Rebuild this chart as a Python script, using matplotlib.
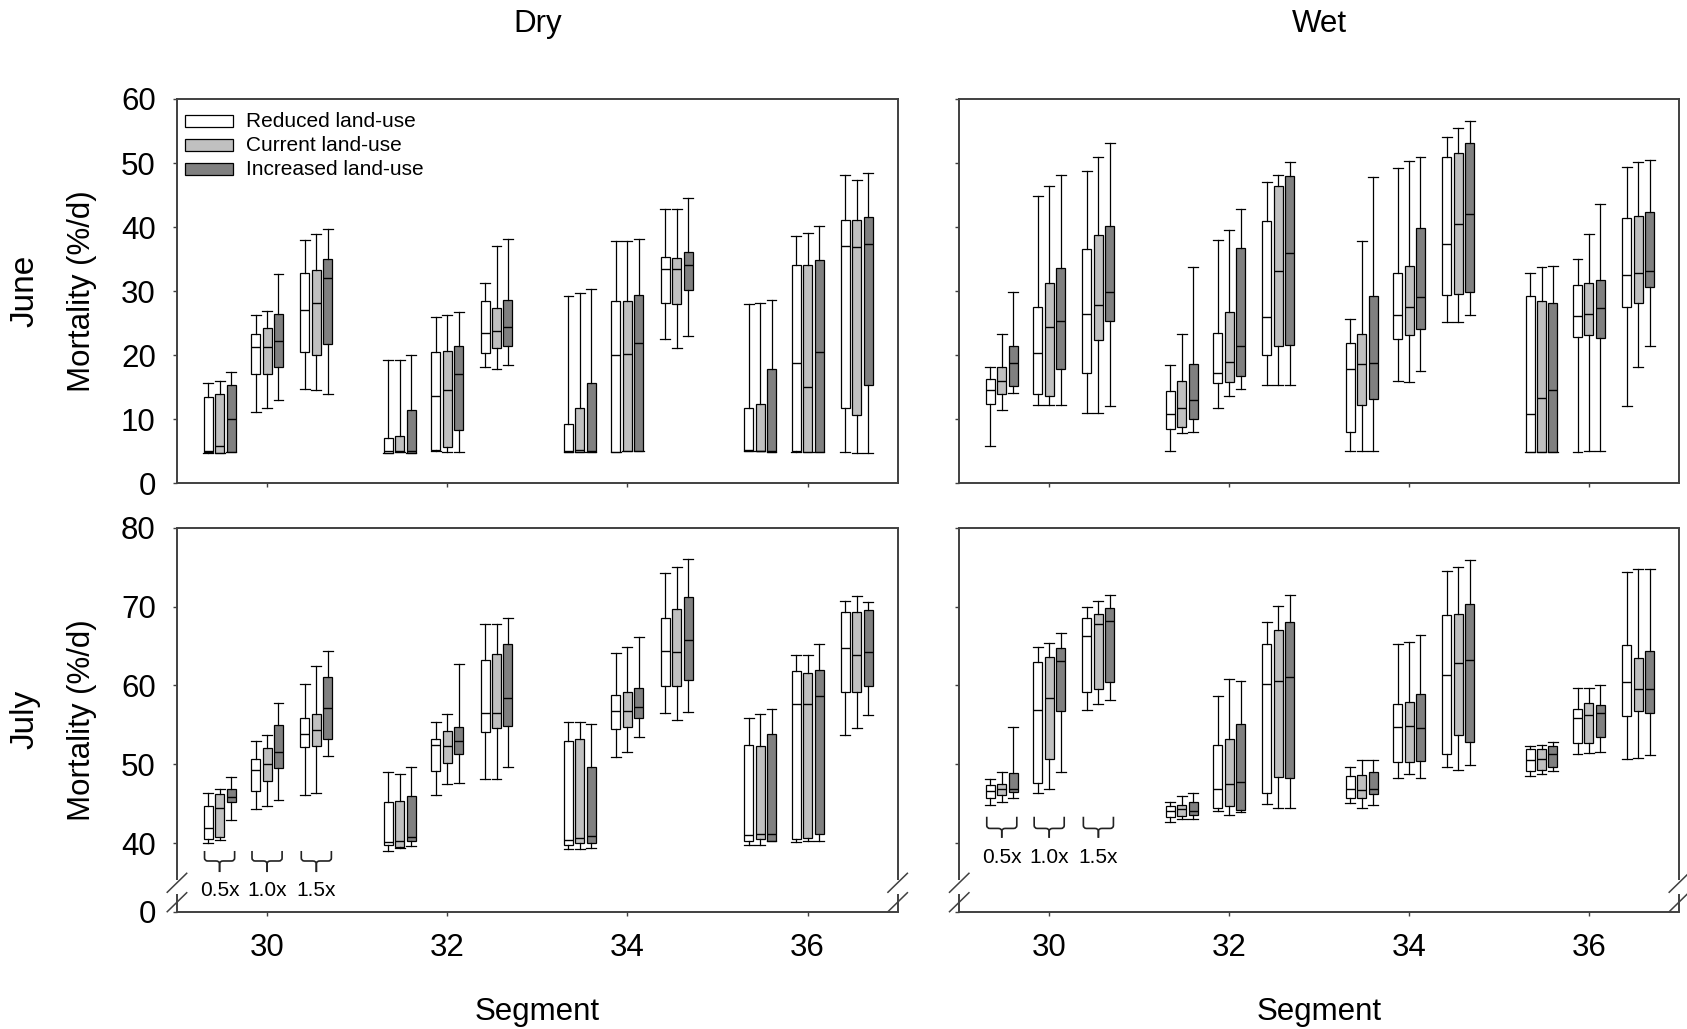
import matplotlib
matplotlib.use('Agg')
import matplotlib.pyplot as plt
from matplotlib.patches import Rectangle, PathPatch
from matplotlib.path import Path

plt.rcParams['font.family'] = ['Liberation Sans', 'DejaVu Sans']

# ---------------- data ----------------
segments = [30, 32, 34, 36]
multipliers = ['0.5x', '1.0x', '1.5x']
land_use = ['Reduced land-use', 'Current land-use', 'Increased land-use']
fill_colors = ['white', '#c0c0c0', '#808080']
columns = ['Dry', 'Wet']
rows = ['June', 'July']

# each entry: (lower whisker, Q1, median, Q3, upper whisker)
# order: segment -> multiplier (0.5x, 1.0x, 1.5x) -> land use (reduced, current, increased)
dry_june = [
    (4.8, 4.9, 5.0, 13.5, 15.7), (4.7, 4.7, 5.9, 13.9, 15.9), (4.9, 4.9, 10.0, 15.4, 17.4),
    (11.1, 17.0, 21.25, 23.3, 26.3), (11.7, 17.0, 21.25, 24.3, 26.9), (13.0, 18.1, 22.2, 26.4, 32.7),
    (14.8, 20.5, 27.0, 32.9, 38.0), (14.5, 20.0, 28.2, 33.3, 38.9), (14.0, 21.8, 32.0, 35.0, 39.7),
    (4.8, 4.8, 5.1, 7.1, 19.3), (4.9, 4.9, 5.1, 7.4, 19.3), (4.8, 4.8, 5.1, 11.4, 20.0),
    (5.1, 5.2, 13.6, 20.5, 25.9), (4.9, 5.6, 14.5, 20.6, 26.2), (4.9, 8.4, 17.0, 21.4, 26.7),
    (18.1, 20.3, 23.5, 28.4, 31.3), (17.9, 21.1, 23.75, 27.4, 37.0), (18.5, 21.4, 24.4, 28.6, 38.1),
    (4.9, 4.9, 5.1, 9.2, 29.3), (4.9, 4.9, 5.2, 11.7, 29.7), (4.9, 4.9, 5.1, 15.7, 30.4),
    (4.9, 4.9, 20.0, 28.4, 37.8), (5.0, 5.0, 20.2, 28.5, 37.8), (5.0, 5.0, 21.9, 29.4, 38.2),
    (22.5, 28.2, 33.4, 35.4, 42.9), (21.2, 28.0, 33.4, 35.2, 42.9), (23.0, 30.2, 34.1, 36.1, 44.6),
    (5.0, 5.0, 5.2, 11.7, 28.0), (5.0, 5.0, 5.1, 12.4, 28.1), (4.9, 4.9, 5.1, 17.8, 28.6),
    (4.9, 5.05, 18.75, 34.1, 38.6), (4.9, 4.9, 15.0, 34.1, 39.1), (4.9, 4.9, 20.5, 34.9, 40.1),
    (4.9, 11.8, 37.1, 41.1, 48.2), (4.8, 10.7, 36.9, 41.1, 47.3), (4.8, 15.4, 37.4, 41.5, 48.4),
]

wet_june = [
    (5.8, 12.4, 14.5, 16.25, 18.1), (11.5, 13.9, 16.0, 18.2, 23.3), (14.1, 15.2, 18.75, 21.5, 29.8),
    (12.2, 13.9, 20.4, 27.6, 44.9), (12.2, 13.6, 24.4, 31.2, 46.4), (12.2, 17.9, 25.3, 33.6, 48.1),
    (11.0, 17.2, 26.5, 36.6, 48.7), (11.0, 22.3, 27.9, 38.75, 50.9), (12.0, 25.4, 29.8, 40.1, 53.1),
    (5.0, 8.5, 10.8, 14.4, 18.4), (7.8, 8.75, 11.8, 15.9, 23.3), (8.0, 10.0, 13.0, 18.7, 33.8),
    (11.8, 15.7, 17.2, 23.4, 38.0), (13.6, 15.8, 18.9, 26.8, 39.5), (14.8, 16.8, 21.4, 36.8, 42.8),
    (15.4, 20.05, 26.0, 41.0, 47.1), (15.4, 21.4, 33.1, 46.4, 48.2), (15.3, 21.6, 35.9, 48.0, 50.1),
    (5.0, 8.0, 17.9, 21.9, 25.7), (5.0, 12.2, 18.6, 23.3, 37.8), (5.1, 13.1, 18.75, 29.3, 47.8),
    (15.9, 22.5, 26.25, 32.8, 49.2), (15.8, 23.1, 27.5, 34.0, 50.3), (17.5, 24.1, 29.1, 39.8, 50.9),
    (25.2, 29.4, 37.3, 50.9, 54.1), (25.2, 29.6, 40.5, 51.6, 55.4), (26.3, 29.9, 42.1, 53.1, 56.5),
    (4.9, 4.9, 10.8, 29.2, 32.9), (4.95, 4.95, 13.3, 28.4, 33.7), (4.9, 4.9, 14.6, 28.1, 33.9),
    (4.9, 22.9, 26.1, 30.9, 35.05), (5.0, 23.1, 26.4, 31.25, 38.9), (5.0, 22.7, 27.4, 31.7, 43.6),
    (12.0, 27.6, 32.5, 41.4, 49.4), (18.1, 28.1, 32.9, 41.8, 50.2), (21.5, 30.6, 33.2, 42.4, 50.5),
]

dry_july = [
    (40.0, 40.5, 41.9, 44.7, 46.4), (40.4, 40.8, 44.4, 46.2, 46.8), (42.9, 45.2, 45.8, 46.9, 48.4),
    (44.35, 46.55, 49.3, 50.65, 52.9), (44.65, 47.9, 50.0, 52.1, 53.7), (45.45, 49.5, 51.6, 55.0, 57.8),
    (46.1, 52.2, 53.8, 55.9, 60.2), (46.3, 52.3, 54.4, 56.4, 62.4), (51.0, 53.2, 57.1, 61.1, 64.3),
    (39.0, 39.7, 40.2, 45.2, 49.0), (39.4, 39.5, 40.3, 45.4, 48.8), (39.6, 40.3, 40.8, 46.0, 49.6),
    (46.1, 49.2, 52.4, 53.2, 55.3), (47.5, 50.2, 52.3, 54.25, 56.4), (47.6, 51.25, 53.0, 54.7, 62.7),
    (48.1, 54.1, 56.5, 63.25, 67.8), (48.1, 54.55, 56.5, 64.0, 67.8), (49.7, 54.9, 58.35, 65.3, 68.5),
    (39.3, 39.8, 40.4, 52.9, 55.4), (39.3, 40.0, 40.7, 53.2, 55.4), (39.4, 40.0, 40.9, 49.6, 55.1),
    (50.9, 54.5, 56.7, 58.8, 64.1), (51.6, 54.7, 56.8, 59.1, 64.9), (53.4, 55.8, 57.2, 59.7, 66.1),
    (56.5, 59.9, 64.3, 68.5, 74.2), (55.6, 59.9, 64.2, 69.7, 75.0), (56.6, 60.7, 65.8, 71.2, 76.0),
    (39.7, 40.3, 41.0, 52.4, 55.9), (39.8, 40.5, 41.2, 52.3, 56.4), (40.3, 40.3, 41.2, 53.8, 57.0),
    (40.2, 40.5, 57.6, 61.8, 63.8), (40.25, 40.7, 57.6, 61.6, 63.9), (40.3, 41.1, 58.7, 61.9, 65.3),
    (53.7, 59.1, 64.7, 69.3, 70.7), (54.6, 59.2, 63.8, 69.3, 71.3), (56.2, 59.9, 64.2, 69.5, 70.6),
]

wet_july = [
    (44.8, 45.75, 46.6, 47.4, 48.1), (45.2, 46.1, 46.9, 47.5, 49.0), (45.7, 46.5, 46.85, 48.9, 54.7),
    (46.3, 47.6, 56.9, 63.0, 64.9), (46.85, 50.7, 58.4, 63.6, 65.4), (49.05, 56.8, 63.1, 64.7, 66.6),
    (56.9, 59.2, 66.3, 68.5, 70.0), (57.6, 59.6, 67.8, 69.1, 70.65), (58.2, 60.4, 68.2, 69.85, 71.4),
    (42.7, 43.3, 44.1, 44.7, 45.2), (43.1, 43.4, 44.35, 44.8, 46.0), (43.1, 43.6, 44.1, 45.2, 46.3),
    (44.1, 44.5, 46.9, 52.4, 58.7), (43.6, 44.65, 47.5, 53.15, 60.85), (44.0, 44.2, 47.7, 55.1, 60.5),
    (44.9, 46.3, 60.2, 65.3, 68.1), (44.5, 48.4, 60.6, 67.0, 70.1), (44.4, 48.3, 61.1, 68.1, 71.4),
    (45.1, 45.7, 46.85, 48.5, 49.6), (44.5, 45.75, 46.7, 48.6, 50.6), (44.8, 46.2, 46.9, 49.0, 50.6),
    (48.2, 50.3, 54.75, 57.6, 65.2), (48.7, 50.3, 54.9, 57.9, 65.5), (48.2, 50.4, 54.6, 58.9, 66.4),
    (49.6, 51.3, 61.35, 68.9, 74.5), (49.3, 53.65, 62.8, 69.1, 75.0), (49.85, 52.8, 63.25, 70.3, 75.9),
    (48.5, 49.2, 50.5, 51.9, 52.35), (48.7, 49.3, 50.7, 51.95, 52.5), (49.1, 49.7, 51.3, 52.3, 52.8),
    (51.3, 52.7, 55.8, 56.95, 59.7), (51.4, 52.7, 56.2, 57.8, 59.7), (51.5, 53.4, 56.45, 57.5, 60.0),
    (50.7, 56.1, 60.4, 65.1, 74.4), (50.8, 56.7, 59.5, 63.5, 74.8), (51.2, 56.45, 59.5, 64.4, 74.7),
]

june_ticks = [0, 10, 20, 30, 40, 50, 60]
july_ticks = [40, 50, 60, 70, 80]
july_break_bottom = 31.3   # axis bottom of broken July axis, labelled "0"

# ---------------- layout / style ----------------
W, H = 1687, 1029
fig = plt.figure(figsize=(W / 100, H / 100), dpi=100)

positions_ax = {
    (0, 0): [0.1049, 0.5303, 0.4272, 0.3735],
    (0, 1): [0.5686, 0.5303, 0.4266, 0.3735],
    (1, 0): [0.1049, 0.1140, 0.4272, 0.3732],
    (1, 1): [0.5686, 0.1140, 0.4266, 0.3732],
}
group_off = [-0.527, 0.0, 0.547]
lu_off = [-0.127, 0.0, 0.127]
spine_col = '#404040'
TICK_FS = 22.5
LAB_FS = 22.5
# brace geometry (top, middle, bottom, label y) per column in July panels
brace_y = {0: (39.0, 37.73, 36.33, 33.95), 1: (43.34, 41.86, 40.67, 38.22)}

panel_data = {(0, 0): dry_june, (0, 1): wet_june, (1, 0): dry_july, (1, 1): wet_july}


def draw_brace(ax, xc, half_w, ytop, ymid, ybot):
    cdx, mdx, mdy = 0.035, 0.04, 0.38
    for s in (-1, 1):
        xe = xc + s * half_w
        verts = [(xe, ytop), (xe, ymid + mdy), (xe, ymid), (xe - s * cdx, ymid),
                 (xc + s * mdx, ymid), (xc, ymid), (xc, ymid - mdy), (xc, ybot)]
        codes = [Path.MOVETO, Path.LINETO, Path.CURVE3, Path.CURVE3,
                 Path.LINETO, Path.CURVE3, Path.CURVE3, Path.LINETO]
        ax.add_patch(PathPatch(Path(verts, codes), fill=False, edgecolor='#222222',
                               lw=1.2, clip_on=False))


for (r, c), data in panel_data.items():
    ax = fig.add_axes(positions_ax[(r, c)])
    for k in range(3):
        stats, pos = [], []
        for si, seg in enumerate(segments):
            for g in range(3):
                lo, q1, med, q3, hi = data[si * 9 + g * 3 + k]
                stats.append(dict(whislo=lo, q1=q1, med=med, q3=q3, whishi=hi, fliers=[]))
                pos.append(seg + group_off[g] + lu_off[k])
        ax.bxp(stats, positions=pos, widths=0.1, capwidths=0.11, patch_artist=True,
               showfliers=False, manage_ticks=False,
               boxprops=dict(facecolor=fill_colors[k], edgecolor='black', linewidth=0.9),
               whiskerprops=dict(color='black', linewidth=0.9),
               capprops=dict(color='black', linewidth=0.9),
               medianprops=dict(color='black', linewidth=1.0))

    ax.set_xlim(29, 37)
    ax.set_xticks(segments)
    ax.tick_params(axis='both', direction='out', length=3.2, width=1.0, color=spine_col,
                   labelsize=TICK_FS, pad=12)
    for sp in ax.spines.values():
        sp.set_color(spine_col)
        sp.set_linewidth(1.4)

    if r == 0:
        ax.set_ylim(0, 60)
        ax.set_yticks(june_ticks)
        ax.set_xticklabels([])
    else:
        ax.set_ylim(july_break_bottom, 80)
        ax.set_yticks([july_break_bottom] + july_ticks)
        ax.set_yticklabels(['0'] + [str(t) for t in july_ticks])
        ax.set_xticklabels([str(s) for s in segments])
        # broken axis: spines with gap + slashes
        ax.spines['left'].set_visible(False)
        ax.spines['right'].set_visible(False)
        for xs in (0, 1):
            ax.plot([xs, xs], [0, 0.046], transform=ax.transAxes, color=spine_col,
                    lw=1.4, clip_on=False, solid_capstyle='butt')
            ax.plot([xs, xs], [0.0826, 1], transform=ax.transAxes, color=spine_col,
                    lw=1.4, clip_on=False, solid_capstyle='butt')
            for yc in (0.0247, 0.0753):
                ax.plot([xs - 0.0135, xs + 0.0135], [yc - 0.0247, yc + 0.0247],
                        transform=ax.transAxes, color=spine_col, lw=1.1, clip_on=False)
        # multiplier braces under segment 30
        ytop, ymid, ybot, ylab = brace_y[c]
        for g, lab in enumerate(multipliers):
            xc = segments[0] + group_off[g]
            draw_brace(ax, xc, 0.167, ytop, ymid, ybot)
            ax.text(xc, ylab, lab, ha='center', va='center', fontsize=15)
    if c == 1:
        ax.set_yticklabels([])

    if r == 0 and c == 0:
        # legend
        for k, lab in enumerate(land_use):
            yc = 0.9427 - k * 0.0625
            ax.add_patch(Rectangle((0.0111, yc - 0.0165), 0.067, 0.033, transform=ax.transAxes,
                                   facecolor=fill_colors[k], edgecolor='black', lw=0.9))
            ax.text(0.0953, yc, lab, transform=ax.transAxes, ha='left', va='center',
                    fontsize=15)

# column titles, row labels, axis labels
for c, name in enumerate(columns):
    l, b, w, h = positions_ax[(0, c)]
    fig.text(l + w / 2, 0.977, name, ha='center', va='center', fontsize=LAB_FS)
    l, b, w, h = positions_ax[(1, c)]
    fig.text(l + w / 2, 0.0168, 'Segment', ha='center', va='center', fontsize=LAB_FS)

for r, name in enumerate(rows):
    l, b, w, h = positions_ax[(r, 0)]
    fig.text(0.0148, b + h / 2, name, rotation=90, ha='center', va='center', fontsize=24)
    fig.text(0.0489, b + h / 2, 'Mortality (%/d)', rotation=90, ha='center', va='center',
             fontsize=LAB_FS)

fig.savefig('out.png', dpi=100)
